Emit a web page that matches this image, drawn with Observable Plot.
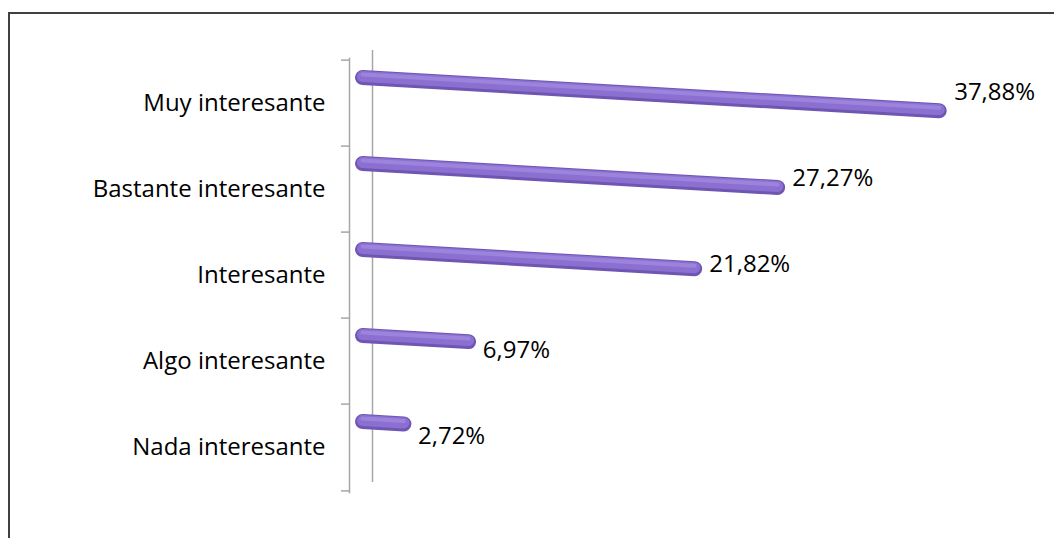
<!DOCTYPE html>
<html>
<head>
<meta charset="utf-8">
<script src="https://cdn.jsdelivr.net/npm/d3@7"></script>
<script src="https://cdn.jsdelivr.net/npm/@observablehq/plot@0.6"></script>
<style>
  html, body { margin: 0; padding: 0; background: #fff; overflow: hidden; }
  #frame { position: absolute; left: 8px; top: 12px; width: 1100px; height: 600px;
           border-left: 2px solid #404040; border-top: 2px solid #404040; }
  #chart { position: absolute; left: 0; top: 0; }
</style>
</head>
<body>
<div id="frame"></div>
<div id="chart"></div>
<script>
const categories = ["Muy interesante", "Bastante interesante", "Interesante", "Algo interesante", "Nada interesante"];
const values = [37.88, 27.27, 21.82, 6.97, 2.72];
const valueLabels = ["37,88%", "27,27%", "21,82%", "6,97%", "2,72%"];

const data = categories.map((c, i) => ({category: c, value: values[i], label: valueLabels[i]}));

const W = 1054, H = 538, mTop = 58, mBottom = 46;
const bw = (H - mTop - mBottom) / categories.length;
const wall = "#a6a6a6";
const font = "'Open Sans', Lato, sans-serif";
const fs = 24;

const chart = Plot.plot({
  width: W,
  height: H,
  marginTop: mTop,
  marginBottom: mBottom,
  marginLeft: 349,
  marginRight: 82,
  x: {domain: [0, 40], insetLeft: 13, axis: null},
  y: {domain: categories, type: "band", padding: 0, axis: null},
  style: {fontFamily: font, fontSize: fs + "px", background: "transparent", color: "#000"},
  marks: [
    Plot.axisY({tickSize: 0, tickPadding: 24, fontSize: fs, fill: "#000", label: null}),
    Plot.axisY({tickSize: 8, tickFormat: () => "", dy: -bw / 2, stroke: wall, strokeWidth: 1.5, label: null}),
    Plot.axisY([categories[categories.length - 1]], {tickSize: 8, tickFormat: () => "", dy: bw / 2, stroke: wall, strokeWidth: 1.5, label: null}),
    Plot.frame({anchor: "left", stroke: wall, strokeWidth: 1.5}),
    Plot.ruleX([0], {dx: 10, insetTop: -8, insetBottom: 10, stroke: wall, strokeWidth: 1.5}),
    Plot.link(data, {x1: 0, x2: "value", y1: "category", y2: "category", stroke: "#6f56b2", strokeWidth: 15, strokeLinecap: "round", dy: -26}),
    Plot.link(data, {x1: 0, x2: "value", y1: "category", y2: "category", stroke: "#8b70d2", strokeWidth: 11, strokeLinecap: "round", dy: -27}),
    Plot.link(data, {x1: 0, x2: "value", y1: "category", y2: "category", stroke: "#9c84dc", strokeWidth: 4, strokeLinecap: "round", dy: -29}),
    Plot.text(data, {x: "value", y: "category", text: "label", dx: 14, dy: -11, textAnchor: "start", fontSize: fs, fill: "#000"})
  ]
});

document.getElementById("chart").appendChild(chart);

// slight perspective tilt of the cylinders around their start point
chart.querySelectorAll('g[aria-label="link"] path').forEach(p => {
  const m = (p.getAttribute("d") || "").match(/M\s*([-\d.e]+)[ ,]([-\d.e]+)/);
  if (m) p.setAttribute("transform", `rotate(3.3,${m[1]},${m[2]})`);
});
</script>
</body>
</html>
